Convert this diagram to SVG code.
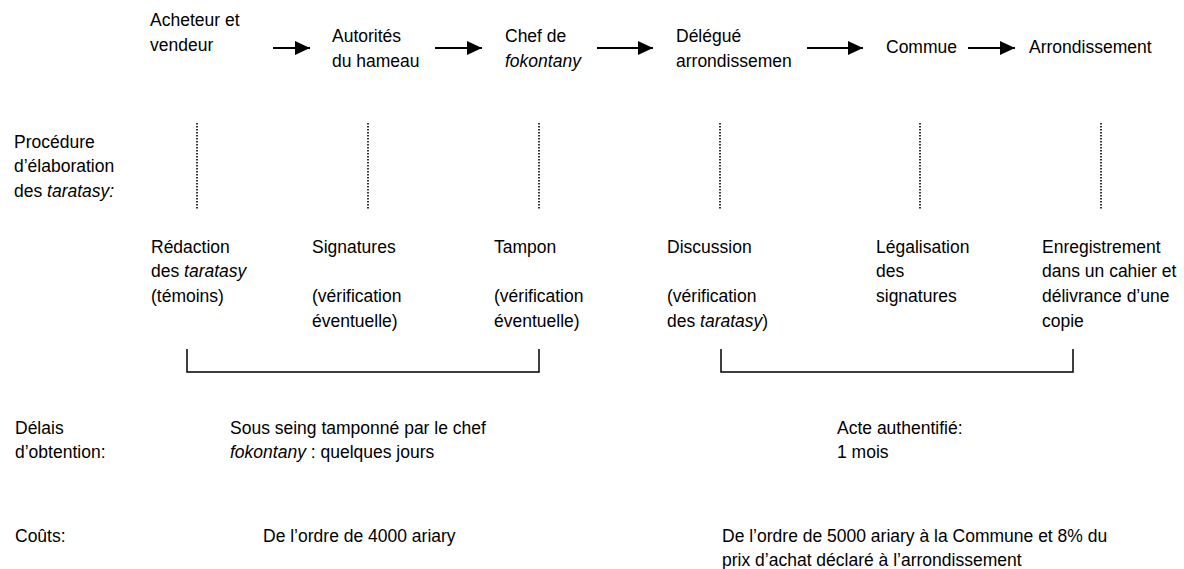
<svg xmlns="http://www.w3.org/2000/svg" width="1184" height="569" viewBox="0 0 1184 569">
<style>
text{font-family:"Liberation Sans",Arial,sans-serif;font-size:17.5px;fill:#000}
.i{font-style:italic}
.arrow{stroke:#000;stroke-width:2;fill:none}
.dot{stroke:#000;stroke-width:1.6;stroke-dasharray:1.6 1.4;fill:none}
.br{stroke:#000;stroke-width:1.5;fill:none}
</style>
<defs>
<marker id="ah" markerUnits="userSpaceOnUse" markerWidth="16" markerHeight="14" refX="15" refY="7" orient="auto">
<path d="M0,0 L15,7 L0,14 Z" fill="#000"/>
</marker>
</defs>
<rect width="1184" height="569" fill="#fff"/>
<g id="n-acheteur"><text x="150" y="26">Acheteur et</text><text x="150" y="51">vendeur</text></g>
<g id="n-autorites"><text x="332" y="42">Autorités</text><text x="332" y="67">du hameau</text></g>
<g id="n-chef"><text x="505" y="42">Chef de</text><text x="505" y="67" class="i">fokontany</text></g>
<g id="n-delegue"><text x="676" y="42">Délégué</text><text x="676" y="67">arrondissemen</text></g>
<g id="n-commue"><text x="886" y="53">Commue</text></g>
<g id="n-arrondissement"><text x="1029" y="53">Arrondissement</text></g>
<g id="connectors">
<line class="arrow" x1="273" y1="48" x2="310" y2="48" marker-end="url(#ah)"/>
<line class="arrow" x1="435" y1="48" x2="482" y2="48" marker-end="url(#ah)"/>
<line class="arrow" x1="597" y1="48" x2="653" y2="48" marker-end="url(#ah)"/>
<line class="arrow" x1="807" y1="48" x2="863" y2="48" marker-end="url(#ah)"/>
<line class="arrow" x1="968" y1="48" x2="1015" y2="48" marker-end="url(#ah)"/>
<line class="dot" x1="197" y1="123" x2="197" y2="209"/>
<line class="dot" x1="368" y1="123" x2="368" y2="209"/>
<line class="dot" x1="539" y1="123" x2="539" y2="209"/>
<line class="dot" x1="720" y1="123" x2="720" y2="209"/>
<line class="dot" x1="920" y1="123" x2="920" y2="209"/>
<line class="dot" x1="1101" y1="123" x2="1101" y2="209"/>
<path class="br" d="M187,349 V372 H539 V349"/>
<path class="br" d="M721,349 V372 H1073 V349"/>
</g>
<g id="n-procedure"><text x="14" y="148">Procédure</text><text x="14" y="172">d’élaboration</text><text x="14" y="197">des <tspan class="i">taratasy:</tspan></text></g>
<g id="n-redaction"><text x="151" y="253">Rédaction</text><text x="151" y="277">des <tspan class="i">taratasy</tspan></text><text x="151" y="302">(témoins)</text></g>
<g id="n-signatures"><text x="312" y="253">Signatures</text><text x="312" y="302">(vérification</text><text x="312" y="327">éventuelle)</text></g>
<g id="n-tampon"><text x="494" y="253">Tampon</text><text x="494" y="302">(vérification</text><text x="494" y="327">éventuelle)</text></g>
<g id="n-discussion"><text x="667" y="253">Discussion</text><text x="667" y="302">(vérification</text><text x="667" y="327">des <tspan class="i">taratasy</tspan>)</text></g>
<g id="n-legalisation"><text x="876" y="253">Légalisation</text><text x="876" y="277">des</text><text x="876" y="302">signatures</text></g>
<g id="n-enregistrement"><text x="1042" y="253">Enregistrement</text><text x="1042" y="277">dans un cahier et</text><text x="1042" y="302">délivrance d’une</text><text x="1042" y="327">copie</text></g>
<g id="n-delais"><text x="15" y="434">Délais</text><text x="15" y="458">d’obtention:</text></g>
<g id="n-sousseing"><text x="230" y="434">Sous seing tamponné par le chef</text><text x="230" y="458"><tspan class="i">fokontany</tspan> : quelques jours</text></g>
<g id="n-acte"><text x="837" y="434">Acte authentifié:</text><text x="837" y="458">1 mois</text></g>
<g id="n-couts"><text x="15" y="542">Coûts:</text></g>
<g id="n-cout1"><text x="263" y="542">De l’ordre de 4000 ariary</text></g>
<g id="n-cout2"><text x="722" y="542">De l’ordre de 5000 ariary à la Commune et 8% du</text><text x="722" y="566">prix d’achat déclaré à l’arrondissement</text></g>
</svg>
